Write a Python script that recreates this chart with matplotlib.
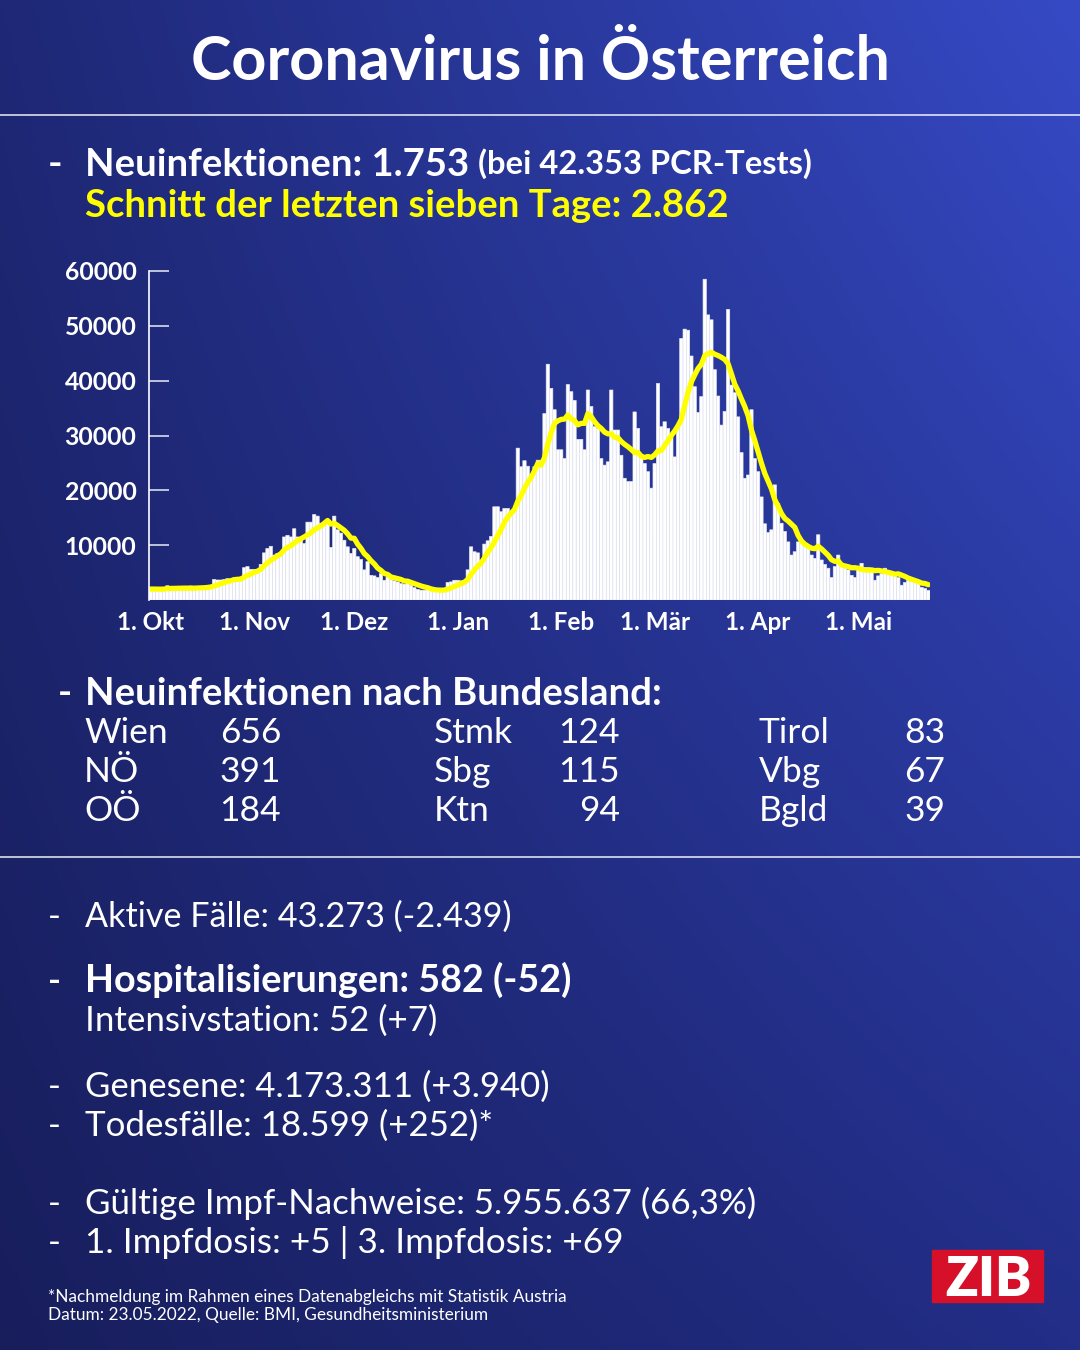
import numpy as np
import pandas as pd
import matplotlib
matplotlib.use("Agg")
import matplotlib.pyplot as plt
from matplotlib.patches import Rectangle

# Tägliche Neuinfektionen (1.10.2021 - 22.5.2022)
cases_oct = [2000, 2000, 1950, 1950, 2050, 2600, 2200, 2050, 2100, 2100,
             2050, 2000, 2550, 2250, 2200, 2300, 2300, 2400, 2600, 3750,
             3650, 3650, 3750, 3900, 3300, 4000, 4100, 4100, 5900, 6100,
             5600]
cases_nov = [5600, 5400, 6500, 8600, 9400, 9800, 8200, 8500, 8000, 11500,
             11800, 11500, 13000, 11500, 10900, 10300, 14200, 14200, 15600, 15300,
             14000, 14200, 14000, 9600, 15300, 12800, 12200, 10900, 9700, 8500]
cases_dec = [9400, 7900, 7400, 5500, 7000, 4500, 4400, 4100, 4800, 3600,
             4200, 3800, 3500, 3300, 3000, 2900, 3300, 2700, 2250, 1950,
             1800, 1800, 1900, 1800, 1700, 1750, 1800, 1900, 3200, 3300,
             3600]
cases_jan = [3600, 3500, 3600, 5500, 9700, 8800, 8600, 7300, 10200, 10800,
             11600, 17000, 17000, 16100, 16700, 16700, 15800, 16100, 27700, 24300,
             25400, 24400, 22800, 24300, 25500, 25500, 34000, 43000, 38600, 34700,
             27400]
cases_feb = [27400, 25800, 39300, 38000, 36400, 29300, 29300, 27400, 38300, 35300,
             31600, 31300, 25800, 24600, 25200, 38300, 31000, 31000, 26400, 22200,
             21600, 21600, 34300, 31300, 26100, 24900, 23400, 20400]
cases_mar = [24900, 39500, 31600, 32500, 31300, 29800, 26100, 31600, 47700, 49400,
             49200, 44500, 38900, 34200, 37100, 58500, 52000, 51100, 42000, 37200,
             31900, 34400, 53000, 39200, 37800, 33400, 26900, 22200, 22800, 34700,
             25800]
cases_apr = [23400, 18800, 13900, 12300, 12800, 21000, 17600, 14000, 12500, 10600,
             8200, 8800, 10600, 10600, 10000, 9700, 8200, 7600, 11900, 7300,
             6500, 5800, 4100, 6100, 8200, 6700, 6100, 5500, 4500, 4100]
cases_may = [5500, 6700, 5900, 5900, 5800, 3600, 4400, 4800, 5800, 5000,
             4800, 4500, 4100, 2700, 3200, 3600, 3500, 3300, 3000, 2300,
             2100, 1753]

month_ticks = ["1. Okt", "1. Nov", "1. Dez", "1. Jan", "1. Feb", "1. Mär", "1. Apr", "1. Mai"]
month_dates = ["2021-10-01", "2021-11-01", "2021-12-01", "2022-01-01",
               "2022-02-01", "2022-03-01", "2022-04-01", "2022-05-01"]
y_ticks = [10000, 20000, 30000, 40000, 50000, 60000]

bundeslaender = [("Wien", 656), ("NÖ", 391), ("OÖ", 184),
                 ("Stmk", 124), ("Sbg", 115), ("Ktn", 94),
                 ("Tirol", 83), ("Vbg", 67), ("Bgld", 39)]

cases = cases_oct + cases_nov + cases_dec + cases_jan + cases_feb + cases_mar + cases_apr + cases_may
dates = pd.date_range("2021-10-01", periods=len(cases), freq="D")
df = pd.DataFrame({"ds": dates, "y": cases})
df["avg7"] = df["y"].rolling(7, min_periods=1).mean()
start = df["ds"].iloc[0]
df["day"] = (df["ds"] - start).dt.days

W, H = 1080, 1350
FONT = "Lato"
WHITE = "white"
YELLOW = "#ffff00"

fig = plt.figure(figsize=(W / 100, H / 100), dpi=100)

# Hintergrund-Verlauf (dunkel links unten -> hell rechts oben)
bg = fig.add_axes([0, 0, 1, 1])
tl = np.array([30, 40, 118]) / 255
tr = np.array([54, 74, 198]) / 255
bl = np.array([24, 30, 92]) / 255
br = np.array([34, 46, 135]) / 255
u = np.linspace(0, 1, 300)[None, :, None]
v = np.linspace(0, 1, 300)[:, None, None]
grad = (1 - v) * ((1 - u) * tl + u * tr) + v * ((1 - u) * bl + u * br)
bg.imshow(grad, extent=[0, 1, 0, 1], aspect="auto")
bg.set_xlim(0, 1)
bg.set_ylim(0, 1)
bg.axis("off")


def px(x, y):
    return x / W, 1 - y / H


def txt(x, y, s, size, weight="normal", color=WHITE, ha="left"):
    fx, fy = px(x, y)
    fig.text(fx, fy, s, fontsize=size, fontweight=weight, color=color,
             ha=ha, va="baseline", family=FONT)


# Titel + Trennlinien
txt(540, 80, "Coronavirus in Österreich", 44, "bold", ha="center")
for yl in (115, 857):
    bg.plot([0, 1], [1 - yl / H] * 2, color=WHITE, lw=1.2, alpha=0.85)

# Kopfzeilen
txt(48, 176, "-", 28, "bold")
txt(85, 176, "Neuinfektionen: 1.753", 27.5, "bold")
txt(478, 174, "(bei 42.353 PCR-Tests)", 23.6, "bold")
txt(85, 217, "Schnitt der letzten sieben Tage: 2.862", 27.5, "bold", color=YELLOW)

# Diagramm
ax = fig.add_axes([149 / W, 1 - 600 / H, 781 / W, 329 / H])
ax.set_facecolor("none")
ax.bar(df["day"], df["y"], width=1.0, color=WHITE, edgecolor="#e3e6f2",
       linewidth=0.45, snap=False)
ax.plot(df["day"], df["avg7"], color=YELLOW, lw=3.8, solid_capstyle="round",
        solid_joinstyle="round")
ax.set_xlim(-0.5, len(cases) - 0.5)
ax.set_ylim(0, 60000)
ax.set_yticks(y_ticks)
ax.set_yticklabels([str(t) for t in y_ticks])
tick_pos = [(pd.Timestamp(d) - start).days for d in month_dates]
ax.set_xticks(tick_pos)
ax.set_xticklabels(month_ticks)
for s in ("top", "right", "bottom"):
    ax.spines[s].set_visible(False)
ax.spines["left"].set_color(WHITE)
ax.spines["left"].set_linewidth(1.2)
ax.tick_params(axis="y", direction="in", length=14.5, width=1.2, color="#d8dcef",
               pad=9, labelcolor=WHITE, labelsize=17.8)
ax.tick_params(axis="x", length=0, pad=8, labelcolor=WHITE, labelsize=17.5)
for lab in ax.get_xticklabels() + ax.get_yticklabels():
    lab.set_fontweight("bold")
    lab.set_family(FONT)

# Bundesländer
txt(58, 705, "-", 27.5, "bold")
txt(85, 705, "Neuinfektionen nach Bundesland:", 27.5, "bold")
col_name_x = [84, 434, 759]
col_num_x = [281, 620, 945]
row_y = [743, 782, 821]
for i, (name, n) in enumerate(bundeslaender):
    c, r = divmod(i, 3)
    txt(col_name_x[c], row_y[r], name, 25.5)
    txt(col_num_x[c], row_y[r], str(n), 25.5, ha="right")

# Weitere Kennzahlen
lines = [
    (927, "Aktive Fälle: 43.273 (-2.439)", "normal", 24.6, True),
    (992, "Hospitalisierungen: 582 (-52)", "bold", 27.2, True),
    (1031, "Intensivstation: 52 (+7)", "normal", 25.1, False),
    (1097, "Genesene: 4.173.311 (+3.940)", "normal", 25.0, True),
    (1136, "Todesfälle: 18.599 (+252)*", "normal", 25.1, True),
    (1214, "Gültige Impf-Nachweise: 5.955.637 (66,3%)", "normal", 25.1, True),
    (1253, "1. Impfdosis: +5 | 3. Impfdosis: +69", "normal", 25.3, True),
]
for y, s, w, size, dash in lines:
    if dash:
        txt(48, y, "-", 25, w)
    txt(85, y, s, size, w)

# Fußnote
txt(48, 1302, "*Nachmeldung im Rahmen eines Datenabgleichs mit Statistik Austria", 12.4)
txt(48, 1320, "Datum: 23.05.2022, Quelle: BMI, Gesundheitsministerium", 12.4)

# ZIB-Logo
bg.add_patch(Rectangle((932 / W, 1 - 1302 / H), 111 / W, 52 / H,
                       color="#d7102a", transform=bg.transAxes))
txt(988, 1296, "ZIB", 39, "heavy", ha="center")

fig.savefig("out.png", dpi=100)
